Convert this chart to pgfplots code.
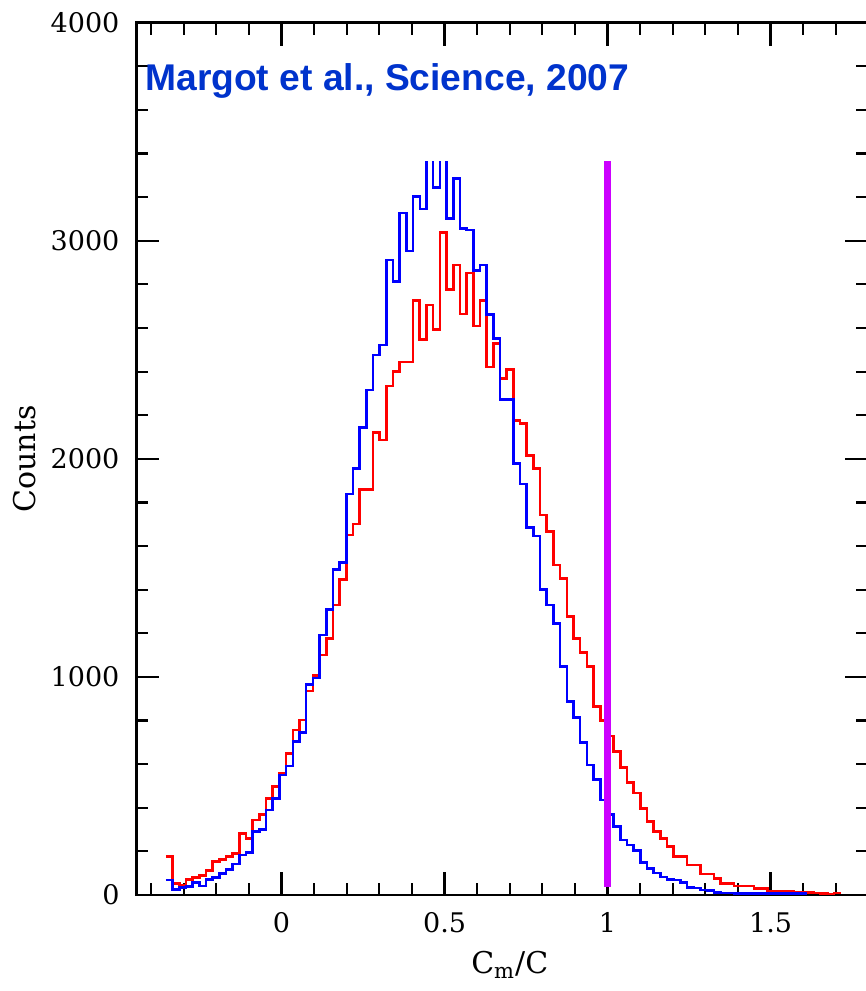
\documentclass[border=0pt]{standalone}
\usepackage{pgfplots}
\pgfplotsset{compat=1.18}
\usepackage{pgfplotstable}
\usepackage{fontspec}
\newfontfamily\labfont{DejaVu Serif}
\newfontfamily\titlefont{Liberation Sans}
\definecolor{histred}{RGB}{255,0,0}
\definecolor{histblue}{RGB}{0,0,255}
\definecolor{limpurple}{RGB}{204,0,255}
\definecolor{titleblue}{RGB}{0,51,204}

\pgfplotstableread{
x y
-0.355 176
-0.3345 53
-0.314 45
-0.2935 72
-0.273 81
-0.2525 90
-0.232 112
-0.2115 153
-0.191 164
-0.1705 176
-0.150 191
-0.1295 283
-0.109 258
-0.0885 344
-0.068 368
-0.0475 443
-0.027 497
-0.0065 558
0.014 650
0.0345 757
0.055 802
0.0755 935
0.096 1006
0.1165 1100
0.137 1177
0.1575 1330
0.178 1447
0.1985 1651
0.219 1701
0.2395 1860
0.260 1860
0.2805 2120
0.301 2086
0.3215 2334
0.342 2400
0.3625 2445
0.383 2445
0.4035 2725
0.424 2548
0.4445 2705
0.465 2594
0.4855 3037
0.506 2777
0.5265 2889
0.547 2664
0.5675 2853
0.588 2609
0.6085 2725
0.629 2421
0.6495 2530
0.670 2368
0.6905 2411
0.711 2175
0.7315 2163
0.752 2014
0.7725 1956
0.793 1742
0.8135 1666
0.834 1513
0.8545 1452
0.875 1276
0.8955 1177
0.916 1113
0.9365 1047
0.957 865
0.9775 800
0.998 730
1.0185 658
1.039 586
1.0595 517
1.080 468
1.1005 397
1.121 338
1.1415 290
1.162 258
1.1825 222
1.203 176
1.2235 176
1.244 138
1.2645 138
1.285 96
1.3055 96
1.326 76
1.3465 53
1.367 53
1.3875 41
1.408 41
1.4285 41
1.449 31
1.4695 31
1.490 18
1.5105 17
1.531 15
1.5515 15
1.572 12
1.5925 11
1.613 11
1.6335 10
1.654 6
1.6745 5
1.695 10
1.7155 10
}\redtab

\pgfplotstableread{
x y
-0.355 69
-0.3345 26
-0.314 35
-0.2935 40
-0.273 57
-0.2525 41
-0.232 72
-0.2115 81
-0.191 99
-0.1705 118
-0.150 142
-0.1295 183
-0.109 194
-0.0885 290
-0.068 301
-0.0475 390
-0.027 443
-0.0065 550
0.014 591
0.0345 703
0.055 744
0.0755 965
0.096 995
0.1165 1192
0.137 1310
0.1575 1493
0.178 1524
0.1985 1839
0.219 1956
0.2395 2144
0.260 2315
0.2805 2476
0.301 2522
0.3215 2911
0.342 2812
0.3625 3128
0.383 2954
0.4035 3202
0.424 3145
0.4445 3480
0.465 3245
0.4855 3450
0.506 3103
0.5265 3286
0.547 3057
0.5675 3049
0.588 2863
0.6085 2889
0.629 2662
0.6495 2552
0.670 2273
0.6905 2273
0.711 1979
0.7315 1884
0.752 1686
0.7725 1646
0.793 1401
0.8135 1330
0.834 1246
0.8545 1047
0.875 886
0.8955 815
0.916 698
0.9365 596
0.957 530
0.9775 436
0.998 370
1.0185 315
1.039 252
1.0595 230
1.080 205
1.1005 150
1.121 122
1.1415 100
1.162 82
1.1825 70
1.203 68
1.2235 57
1.244 35
1.2645 33
1.285 23
1.3055 22
1.326 11
1.3465 10
1.367 10
1.3875 8
1.408 8
1.4285 8
1.449 8
1.4695 8
1.490 7
1.5105 7
1.531 7
1.5515 6
1.572 6
1.5925 6
1.613 6
}\bluetab

\begin{document}
\begin{tikzpicture}
\begin{axis}[name=ax, scale only axis, width=365.94pt, height=436.15pt,
 xmin=-0.445, xmax=1.8, ymin=0, ymax=4000,
 xtick={0,0.5,1,1.5}, xticklabels={0,0.5,1,1.5},
 minor xtick={-0.4,-0.3,-0.2,-0.1,0.1,0.2,0.3,0.4,0.6,0.7,0.8,0.9,1.1,1.2,1.3,1.4,1.6,1.7},
 ytick={0,1000,2000,3000,4000}, yticklabels={0,1000,2000,3000,4000},
 minor ytick={200,400,600,800,1200,1400,1600,1800,2200,2400,2600,2800,3200,3400,3600,3800},
 tick align=inside, major tick length=11.5pt, minor tick length=6pt,
 tick style={line width=1.1pt, black},
 axis line style={line width=1.3pt},
 tick label style={font=\labfont\fontsize{13.5}{14}\selectfont},
 yticklabel style={xshift=-5pt},
 xticklabel style={yshift=-5pt},
 xlabel={C\textsubscript{m}/C}, ylabel={Counts},
 label style={font=\labfont\fontsize{15}{16}\selectfont},
 xlabel style={at={(axis description cs:0.51,-0.0802)}, anchor=center},
 ylabel style={at={(axis description cs:-0.1524,0.5)}, anchor=center},
 clip=true,
]
\addplot[const plot, histred, line width=1.3pt] table[x=x,y=y]{\redtab};
\node[anchor=base west, inner sep=0pt, text=titleblue, font=\titlefont\bfseries\fontsize{18.6}{22}\selectfont] at (axis cs:-0.419,3688) {Margot et al., Science, 2007};
\end{axis}
\begin{axis}[at={(ax.south west)}, anchor=south west, scale only axis,
 width=365.94pt, height=366.58pt, xmin=-0.445, xmax=1.8, ymin=0, ymax=3362,
 hide axis, clip=true]
\addplot[const plot, histblue, line width=1.3pt] table[x=x,y=y]{\bluetab};
\addplot[limpurple, line width=3.6pt] coordinates {(1,38) (1,3400)};
\end{axis}
\pgfresetboundingbox
\path (ax.south west) ++(-68.25pt,-48pt) rectangle ++(433pt,495.5pt);
\end{tikzpicture}
\end{document}
